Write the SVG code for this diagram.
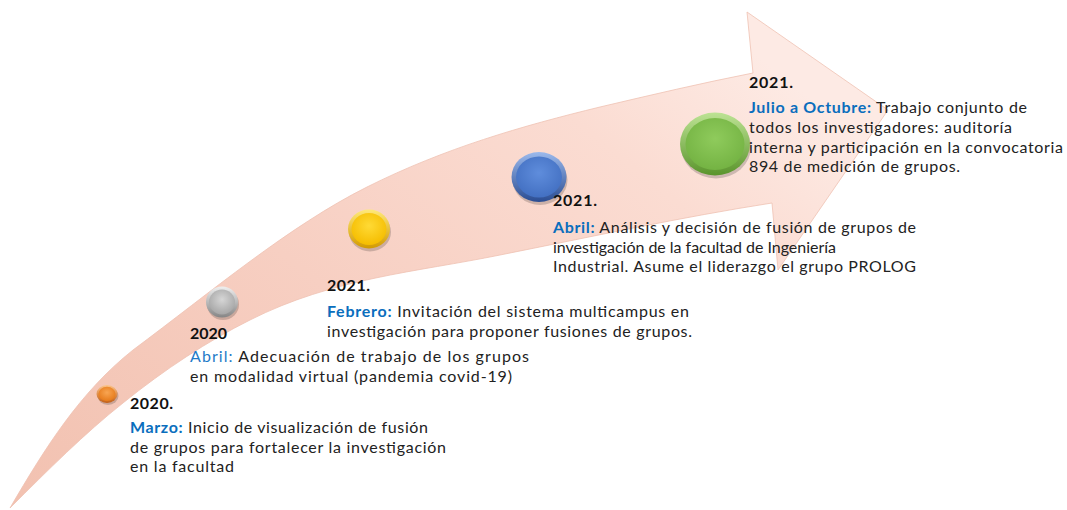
<svg xmlns="http://www.w3.org/2000/svg" width="1067" height="510" viewBox="0 0 1067 510">
<defs>
<style>
.yr{font-family:Lato,"Liberation Sans",sans-serif;font-weight:bold;font-size:16px;fill:#111}
.tx{font-family:Lato,"Liberation Sans",sans-serif;font-size:16px;fill:#222}
.lb{font-weight:bold;fill:#0A6EBD}
.lr{fill:#1F7BC8}
.shadow{fill:#000;opacity:.18}
</style>
<linearGradient id="arrowFill" x1="0" y1="1" x2="1" y2="0.3">
<stop offset="0" stop-color="#F2C1B0"/>
<stop offset="0.45" stop-color="#F7CFC2"/>
<stop offset="0.8" stop-color="#FBDCD2"/>
<stop offset="1" stop-color="#FDEAE4"/>
</linearGradient>
<linearGradient id="oRim" x1="0" y1="0" x2="0" y2="1"><stop offset="0" stop-color="#FCC48A"/><stop offset="1" stop-color="#C25F16"/></linearGradient>
<radialGradient id="oFace" cx="0.5" cy="0.4" r="0.6"><stop offset="0" stop-color="#F8A552"/><stop offset="1" stop-color="#E67A1A"/></radialGradient>
<linearGradient id="gRim" x1="0" y1="0" x2="0" y2="1"><stop offset="0" stop-color="#EFEFEF"/><stop offset="1" stop-color="#858585"/></linearGradient>
<radialGradient id="gFace" cx="0.5" cy="0.4" r="0.6"><stop offset="0" stop-color="#D6D6D6"/><stop offset="1" stop-color="#A6A6A6"/></radialGradient>
<linearGradient id="yRim" x1="0" y1="0" x2="0" y2="1"><stop offset="0" stop-color="#FFE97A"/><stop offset="1" stop-color="#D29A00"/></linearGradient>
<radialGradient id="yFace" cx="0.5" cy="0.4" r="0.6"><stop offset="0" stop-color="#FFDA35"/><stop offset="1" stop-color="#F5BD00"/></radialGradient>
<linearGradient id="bRim" x1="0" y1="0" x2="0" y2="1"><stop offset="0" stop-color="#9BB9EC"/><stop offset="1" stop-color="#2A4C92"/></linearGradient>
<radialGradient id="bFace" cx="0.5" cy="0.4" r="0.6"><stop offset="0" stop-color="#5F8DDC"/><stop offset="1" stop-color="#4370C2"/></radialGradient>
<linearGradient id="vRim" x1="0" y1="0" x2="0" y2="1"><stop offset="0" stop-color="#BDE394"/><stop offset="1" stop-color="#5A942C"/></linearGradient>
<radialGradient id="vFace" cx="0.5" cy="0.4" r="0.6"><stop offset="0" stop-color="#8FCB5C"/><stop offset="1" stop-color="#74B343"/></radialGradient>
</defs>

<g id="connectors">
<path id="arrow" fill="url(#arrowFill)" stroke="#EFC2B3" stroke-width="0.8" d="M10,508 C45,448 80,392 133,350 C211,292 289,226 367,187 C445,148 522,126 600,107 C651,95 702,83 753,73 L747,12 L888,110 L778,270 L772,203 C682,217 590,237 500,255 C417,272 333,278 250,320 C208,341 165,369 123,403 C85,433 48,470 10,508 Z"/>
</g>

<g id="m1">
<ellipse class="shadow" cx="108" cy="396" rx="10.5" ry="9"/>
<ellipse cx="107" cy="394" rx="10.5" ry="9" fill="url(#oRim)"/>
<ellipse cx="107" cy="394" rx="8.6" ry="7.2" fill="url(#oFace)"/>
<text class="yr" x="130" y="409" textLength="43">2020.</text>
<text class="tx" x="130" y="433" textLength="298"><tspan class="lb">Marzo:</tspan> Inicio de visualización de fusión</text>
<text class="tx" x="130" y="452.5" textLength="316">de grupos para fortalecer la investigación</text>
<text class="tx" x="130" y="472" textLength="104">en la facultad</text>
</g>

<g id="m2">
<ellipse class="shadow" cx="223" cy="304.5" rx="16" ry="15.5"/>
<ellipse cx="222" cy="302" rx="16" ry="15.5" fill="url(#gRim)"/>
<ellipse cx="222" cy="302" rx="13" ry="12.5" fill="url(#gFace)"/>
<text class="yr" x="190" y="339" textLength="37">2020</text>
<text class="tx" x="190" y="362" textLength="339"><tspan class="lr">Abril:</tspan> Adecuación de trabajo de los grupos</text>
<text class="tx" x="190" y="382" textLength="322">en modalidad virtual (pandemia covid-19)</text>
</g>

<g id="m3">
<ellipse class="shadow" cx="370" cy="232" rx="21" ry="19.5"/>
<ellipse cx="369" cy="229" rx="21" ry="19.5" fill="url(#yRim)"/>
<ellipse cx="369" cy="229" rx="17.5" ry="16" fill="url(#yFace)"/>
<text class="yr" x="327" y="291" textLength="43">2021.</text>
<text class="tx" x="327" y="317" textLength="362"><tspan class="lb">Febrero:</tspan> Invitación del sistema multicampus en</text>
<text class="tx" x="327" y="336.5" textLength="365">investigación para proponer fusiones de grupos.</text>
</g>

<g id="m4">
<ellipse class="shadow" cx="540" cy="180" rx="27.5" ry="25"/>
<ellipse cx="539" cy="177" rx="27.5" ry="25" fill="url(#bRim)"/>
<ellipse cx="539" cy="177" rx="23" ry="20.5" fill="url(#bFace)"/>
<text class="yr" x="553" y="206" textLength="44">2021.</text>
<text class="tx" x="553" y="233" textLength="363"><tspan class="lb">Abril:</tspan> Análisis y decisión de fusión de grupos de</text>
<text class="tx" x="553" y="252.5" textLength="283">investigación de la facultad de Ingeniería</text>
<text class="tx" x="553" y="272" textLength="363">Industrial. Asume el liderazgo el grupo PROLOG</text>
</g>

<g id="m5">
<ellipse class="shadow" cx="716" cy="147" rx="35" ry="31.5"/>
<ellipse cx="715" cy="144" rx="35" ry="31.5" fill="url(#vRim)"/>
<ellipse cx="715" cy="144" rx="29.5" ry="26" fill="url(#vFace)"/>
<text class="yr" x="749" y="88" textLength="44">2021.</text>
<text class="tx" x="749" y="113" textLength="278"><tspan class="lb">Julio a Octubre:</tspan> Trabajo conjunto de</text>
<text class="tx" x="749" y="133" textLength="263">todos los investigadores: auditoría</text>
<text class="tx" x="749" y="152.5" textLength="314">interna y participación en la convocatoria</text>
<text class="tx" x="749" y="172" textLength="211">894 de medición de grupos.</text>
</g>
</svg>
